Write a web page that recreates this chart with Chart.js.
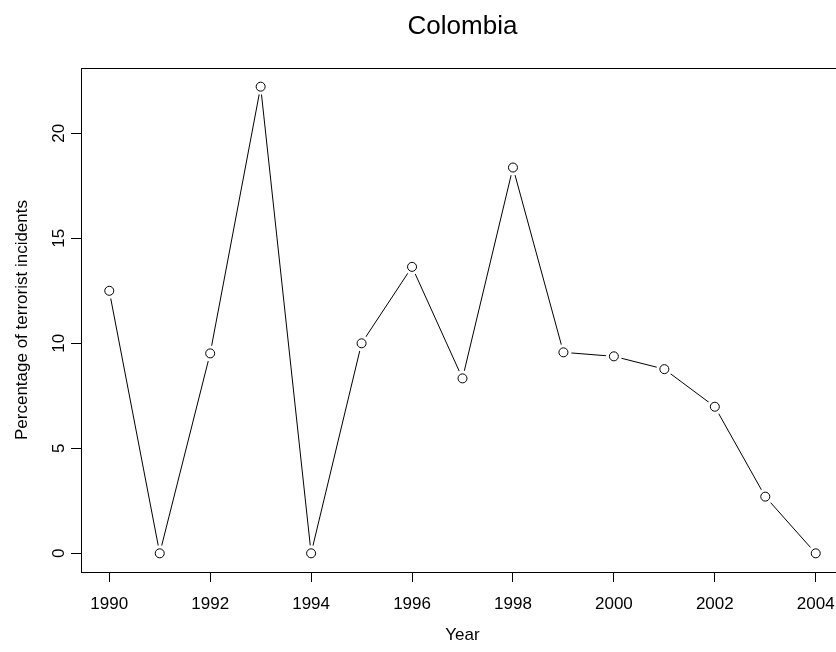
<!DOCTYPE html>
<html>
<head>
<meta charset="utf-8">
<script src="https://cdn.jsdelivr.net/npm/chart.js@4/dist/chart.umd.min.js"></script>
<style>
  html, body { margin: 0; padding: 0; background: #fff; overflow: hidden; }
  canvas { display: block; }
</style>
</head>
<body>
<canvas id="chart" width="870" height="652"></canvas>
<script>
// --- Data ---
const chartTitle = "Colombia";
const xTitle = "Year";
const yTitle = "Percentage of terrorist incidents";

const years = [1990, 1991, 1992, 1993, 1994, 1995, 1996, 1997, 1998, 1999, 2000, 2001, 2002, 2003, 2004];
const percent = [12.5, 0, 9.52, 22.22, 0, 10, 13.64, 8.33, 18.37, 9.57, 9.38, 8.77, 6.98, 2.7, 0];

const xTicks = [1990, 1992, 1994, 1996, 1998, 2000, 2002, 2004];
const yTicks = [0, 5, 10, 15, 20];

const FONT = '"Liberation Sans", Arial, sans-serif';

const toPoints = () => years.map((yr, i) => ({ x: yr, y: percent[i] }));

// R-style axis ranges: data range padded by 4% on each side
function paddedRange(values) {
    const lo = Math.min(...values), hi = Math.max(...values);
    const pad = (hi - lo) * 0.04;
    return [lo - pad, hi + pad];
}
const [xMin, xMax] = paddedRange(years);
const [yMin, yMax] = paddedRange(percent);

// Box, rotated y tick labels and main title, drawn like base R graphics
const rFrame = {
    id: "rFrame",
    afterDraw(chart) {
        const { ctx, chartArea: a, scales: { y } } = chart;
        ctx.save();
        ctx.strokeStyle = "#000";
        ctx.lineWidth = 1;
        ctx.strokeRect(Math.round(a.left) + 0.5, Math.round(a.top) + 0.5,
                       Math.round(a.right - a.left), Math.round(a.bottom - a.top));

        ctx.fillStyle = "#000";
        ctx.font = "17px " + FONT;
        ctx.textAlign = "center";
        ctx.textBaseline = "alphabetic";
        y.ticks.forEach(t => {
            ctx.save();
            ctx.translate(a.left - 17, y.getPixelForValue(t.value));
            ctx.rotate(-Math.PI / 2);
            ctx.fillText(String(t.value), 0, 0);
            ctx.restore();
        });

        ctx.font = "26px " + FONT;
        ctx.fillText(chartTitle, (a.left + a.right) / 2, 34);
        ctx.restore();
    },
};

new Chart(document.getElementById("chart"), {
    type: "line",
    data: {
        datasets: [
            {   // segments; white point discs make the lines stop short of the symbols (type = "b")
                data: toPoints(),
                borderColor: "#000",
                borderWidth: 1,
                pointStyle: "circle",
                pointRadius: 8,
                pointBackgroundColor: "#fff",
                pointBorderColor: "#fff",
                pointBorderWidth: 0,
                order: 2,
            },
            {   // open circles
                data: toPoints(),
                showLine: false,
                pointStyle: "circle",
                pointRadius: 4.5,
                pointBackgroundColor: "#fff",
                pointBorderColor: "#000",
                pointBorderWidth: 1,
                order: 1,
            },
        ],
    },
    options: {
        responsive: false,
        devicePixelRatio: 1,
        animation: false,
        layout: { padding: { top: 68, right: 26, bottom: 0, left: 0 } },
        plugins: {
            legend: { display: false },
            tooltip: { enabled: false },
            title: { display: false },
        },
        scales: {
            x: {
                type: "linear",
                min: xMin,
                max: xMax,
                afterBuildTicks: s => { s.ticks = xTicks.map(v => ({ value: v })); },
                afterFit: s => { s.height = 80; },
                ticks: {
                    color: "#000",
                    font: { size: 17, family: FONT },
                    padding: 12,
                    maxRotation: 0,
                    callback: v => String(v),
                },
                grid: { drawOnChartArea: false, drawTicks: true, tickLength: 10, color: "#000" },
                border: { display: false },
                title: {
                    display: true,
                    text: xTitle,
                    color: "#000",
                    font: { size: 17, family: FONT },
                    padding: { top: 0, bottom: 6 },
                },
            },
            y: {
                type: "linear",
                min: yMin,
                max: yMax,
                afterBuildTicks: s => { s.ticks = yTicks.map(v => ({ value: v })); },
                afterFit: s => { s.width = 81; },
                ticks: { display: false },
                grid: { drawOnChartArea: false, drawTicks: true, tickLength: 10, color: "#000" },
                border: { display: false },
                title: {
                    display: true,
                    text: yTitle,
                    color: "#000",
                    font: { size: 17, family: FONT },
                    padding: { top: 12, bottom: 0 },
                },
            },
        },
    },
    plugins: [rFrame],
});
</script>
</body>
</html>
